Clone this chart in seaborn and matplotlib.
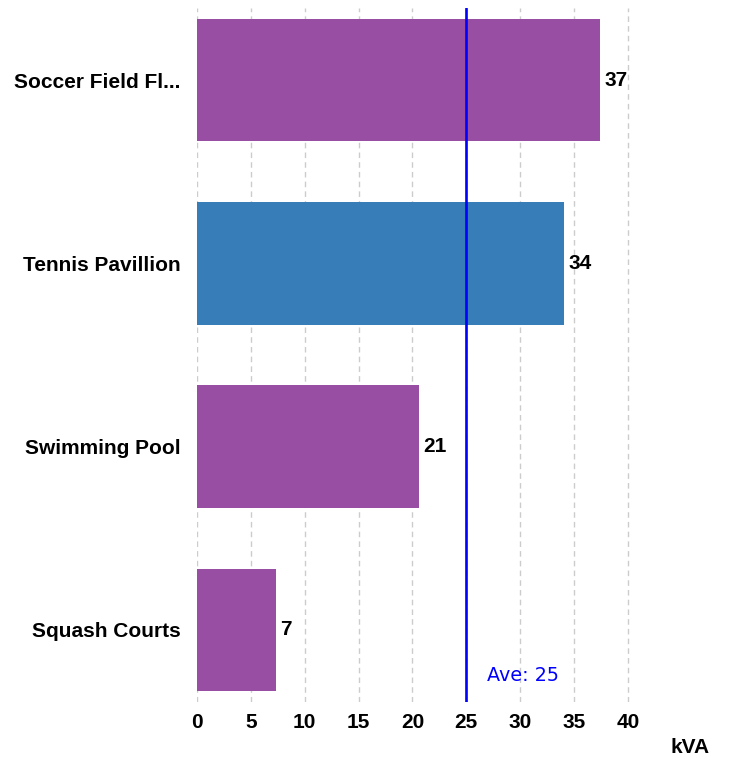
import matplotlib
matplotlib.use("Agg")
import matplotlib.pyplot as plt
import seaborn as sns
import pandas as pd

# dados
categorias = ["Soccer Field Fl...", "Tennis Pavillion", "Swimming Pool", "Squash Courts"]
valores = [37.4, 34.1, 20.6, 7.3]
cores = ["#984ea3", "#377eb8", "#984ea3", "#984ea3"]
media = 25
ticks_x = [0, 5, 10, 15, 20, 25, 30, 35, 40]

sns.set_theme(style="white")
plt.rcParams["font.family"] = ["Liberation Sans", "DejaVu Sans"]
plt.rcParams["text.color"] = "black"
plt.rcParams["xtick.color"] = "black"
plt.rcParams["ytick.color"] = "black"

df = pd.DataFrame({"categoria": categorias, "valor": valores})

fig = plt.figure(figsize=(7.29, 7.6), dpi=100)
ax = fig.add_axes([0.2702, 0.0763, 0.6354, 0.9132])

sns.barplot(data=df, x="valor", y="categoria", hue="categoria", palette=cores,
            orient="h", width=0.67, saturation=1, linewidth=0,
            legend=False, ax=ax, zorder=2)

for i, v in enumerate(valores):
    ax.text(v + 0.4, i, f"{v:.0f}", va="center", ha="left",
            fontsize=15, fontweight="bold", color="black")

ax.axvline(media, color="#0000ff", linewidth=1.9, zorder=3)
ax.text(media + 1.9, 3.25, f"Ave: {media}", color="#0000ff", fontsize=13.8,
        family="DejaVu Sans", va="center", ha="left")

ax.set_xlim(0, 43)
ax.set_ylim(3.393, -0.393)
ax.set_xticks(ticks_x)
ax.set_xticklabels([str(t) for t in ticks_x], fontsize=15, fontweight="bold")
ax.tick_params(axis="y", labelsize=15, length=0, pad=12)
ax.tick_params(axis="x", length=0, pad=8)
for lab in ax.get_yticklabels():
    lab.set_fontweight("bold")
ax.xaxis.grid(True, linestyle=(0, (4, 3)), color="#cccccc", linewidth=1, zorder=0)
ax.yaxis.grid(False)
ax.set_axisbelow(True)
ax.set_xlabel("")
ax.set_ylabel("")
sns.despine(ax=ax, left=True, bottom=True, top=True, right=True)

fig.text(0.946, 0.016, "kVA", fontsize=15, fontweight="bold", ha="center", va="center")

fig.savefig("out.png", dpi=100)
plt.close()
